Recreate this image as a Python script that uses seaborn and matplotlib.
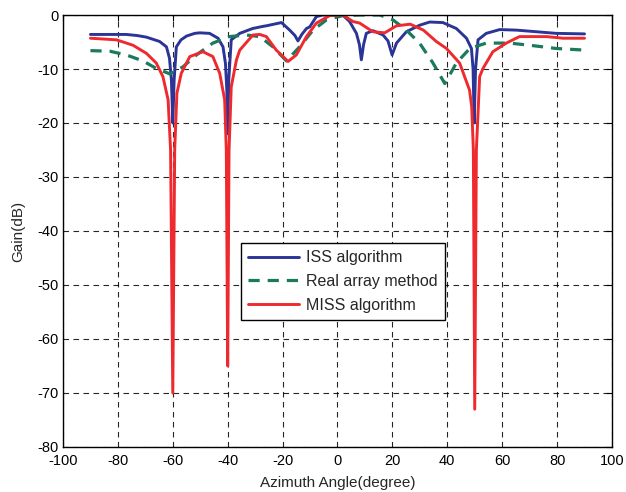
import matplotlib
matplotlib.use("Agg")
import matplotlib.pyplot as plt
import seaborn as sns
import pandas as pd

# ISS algorithm beam pattern
iss_angle = [-90, -80, -77, -73, -69.6, -64.8, -62.3, -61.2, -60.5, -60, -59.5, -58.7, -57, -55, -52,
             -50.2, -46.6, -43.5, -41.7, -40.8, -40.3, -40, -39.6, -38.7, -35.6, -30.9, -27.1, -25.9,
             -20.4, -17.4, -15.5, -14.4, -13, -11.3, -10.1, -7.7, -5.4, -2.8, 1.9, 4.4, 6.9, 8, 8.7,
             9.5, 10.5, 12.9, 16.6, 18.4, 19.9, 21.5, 25.1, 29.9, 33.6, 38.4, 43.3, 47, 48.8, 49.4,
             49.8, 50.3, 51.2, 54.2, 59.1, 65.2, 72.5, 79.7, 90]
iss_gain = [-3.6, -3.6, -3.6, -3.8, -4.1, -4.9, -5.9, -8, -12, -20, -12, -5.9, -4.6, -3.9, -3.4,
            -3.3, -3.4, -4.3, -5.9, -9, -14, -22, -12, -4.6, -3.4, -2.5, -2.1, -2.0,
            -1.4, -2.8, -3.8, -4.8, -3.6, -2.5, -2.2, -0.3, 0, 0, 0, -1.2, -3.4, -5.5, -8.3,
            -5.5, -3.4, -2.9, -3.7, -4.8, -7.4, -5.2, -3.1, -1.9, -1.3, -1.4, -2.5, -4.3, -6.2, -10,
            -20, -10, -4.6, -3.4, -2.7, -2.8, -3.1, -3.4, -3.5]

# Real array method beam pattern
real_angle = [-90, -83, -76.9, -70.9, -66, -61.1, -56.3, -51.4, -45.4, -39.3, -33.2, -28.3, -23.5,
              -18.6, -13.8, -8.9, -4, 2, 8, 15.4, 20.2, 25.1, 29.9, 34.8, 39.1, 43.3, 48.2, 54.2,
              62.7, 70, 79.7, 90]
real_gain = [-6.6, -6.7, -7.4, -8.5, -9.9, -10.9, -9.6, -7.4, -5.2, -4.0, -3.7, -4.0, -5.9,
             -8.5, -5.9, -2.8, -0.9, -0.1, 0, 0, -0.9, -2.8, -5.2, -8.9, -12.7, -8.9, -6.2, -5.2,
             -5.2, -5.6, -6.2, -6.5]

# MISS algorithm beam pattern
miss_angle = [-90, -80.5, -74.5, -69.6, -66, -63.6, -61.7, -60.8, -60, -59.3, -58.5, -56.9, -53.8,
              -49, -45.4, -42.9, -41.1, -40.5, -40, -39.5, -38.7, -36.8, -35.6, -30.8, -28.3, -25.9,
              -22.3, -18, -15, -11.3, -7.7, -2.8, 0.8, 2, 5.6, 8.1, 12.9, 17.2, 21.5, 26.5, 31.3,
              36, 39.7, 44.5, 48.1, 48.9, 49.5, 50, 50.6, 51.8, 53, 56.6, 61.5, 66.3, 76.1, 82.2, 90]
miss_gain = [-4.3, -4.6, -5.6, -7.1, -8.9, -11.4, -15.7, -25, -70, -25, -14.5, -10.8, -7.7,
             -6.8, -7.7, -10.8, -15.7, -25, -65, -25, -13.3, -8.3, -6.5, -3.7, -3.6, -4.0,
             -6.5, -8.6, -7.4, -4.0, -1.5, -0.1, 0, 0, -1.2, -1.5, -3.1, -3.3, -2.0, -1.7, -2.8,
             -4.9, -6.2, -8.9, -13.9, -17, -25, -73, -25, -11.4, -9.9, -6.8, -5.2, -4.0, -4.0, -4.3, -4.3]

x_ticks = list(range(-100, 101, 20))
y_ticks = list(range(-80, 1, 10))

sns.set_theme(style="white")
plt.rcParams["font.family"] = ["Liberation Sans", "DejaVu Sans"]
plt.rcParams["axes.unicode_minus"] = False

fig = plt.figure(figsize=(6.26, 4.92), dpi=100)
ax = fig.add_axes([0.1006, 0.0915, 0.877, 0.878])

iss_df = pd.DataFrame({"angle": iss_angle, "gain": iss_gain})
real_df = pd.DataFrame({"angle": real_angle, "gain": real_gain})
miss_df = pd.DataFrame({"angle": miss_angle, "gain": miss_gain})

sns.lineplot(data=iss_df, x="angle", y="gain", ax=ax, color="#2b3497", lw=2.1,
             label="ISS algorithm", sort=False)
sns.lineplot(data=real_df, x="angle", y="gain", ax=ax, color="#1b7a5c", lw=2.3,
             label="Real array method", sort=False)
sns.lineplot(data=miss_df, x="angle", y="gain", ax=ax, color="#ee2a2e", lw=2.1,
             label="MISS algorithm", sort=False)
ax.lines[1].set_linestyle((0, (3.5, 2.5)))

ax.set_xlim(-100, 100)
ax.set_ylim(-80, 0)
ax.set_xticks(x_ticks)
ax.set_yticks(y_ticks)
ax.tick_params(direction="in", length=4, width=0.8, top=True, right=True,
               labelsize=10.5, colors="black")
ax.tick_params(axis="x", pad=5)
ax.tick_params(axis="y", pad=3)
ax.grid(True, color="black", linestyle=(0, (5, 4)), linewidth=0.8, alpha=0.85)
for sp in ax.spines.values():
    sp.set_color("black")
    sp.set_linewidth(1.0)

ax.set_xlabel("Azimuth Angle(degree)", fontsize=11, labelpad=6)
ax.set_ylabel("Gain(dB)", fontsize=11, labelpad=9)

handles, labels = ax.get_legend_handles_labels()
handles[1].set_linestyle((0, (3.5, 2.5)))
leg = ax.legend(handles, labels, loc="upper left", bbox_to_anchor=(0.324, 0.472),
                borderaxespad=0, fontsize=11.5, frameon=True, fancybox=False,
                handlelength=3.2, borderpad=0.45, labelspacing=0.55, handletextpad=0.45)
leg.get_frame().set_edgecolor("black")
leg.get_frame().set_linewidth(1.0)
leg.get_frame().set_alpha(1.0)

fig.savefig("out.png", dpi=100)
